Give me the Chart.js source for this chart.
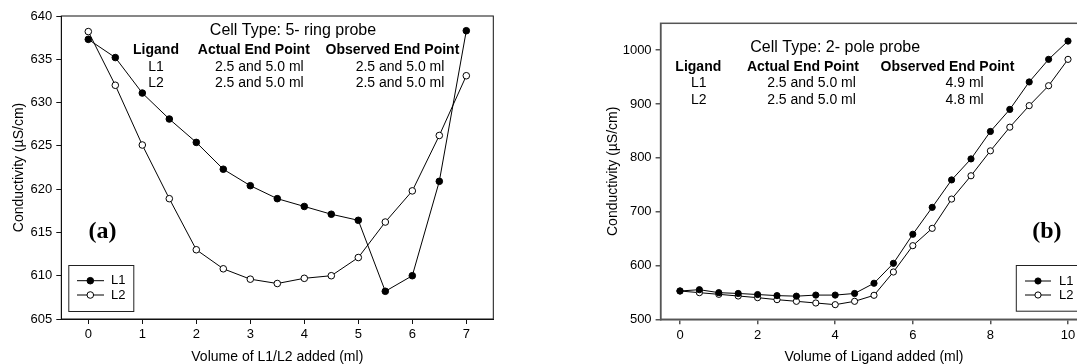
<!DOCTYPE html>
<html><head><meta charset="utf-8">
<script src="https://cdn.jsdelivr.net/npm/chart.js@4.4.1/dist/chart.umd.min.js"></script>
<style>
html,body{margin:0;padding:0;background:#fff;overflow:hidden;width:1077px;height:364px;position:relative;}
canvas{position:absolute;top:0;}
#ca{left:0;} #cb{left:540px;}
</style></head><body>
<canvas id="ca" width="540" height="364"></canvas>
<canvas id="cb" width="560" height="364"></canvas>
<script>
// ---- data: panel (a) 5-ring probe ----
const volA = [0, 0.5, 1, 1.5, 2, 2.5, 3, 3.5, 4, 4.5, 5, 5.5, 6, 6.5, 7];
const l1A  = [637.3, 635.2, 631.1, 628.1, 625.4, 622.3, 620.4, 618.9, 618.0, 617.1, 616.4, 608.2, 610.0, 620.9, 638.3];
const l2A  = [638.2, 632.0, 625.1, 618.9, 613.0, 610.8, 609.6, 609.1, 609.7, 610.0, 612.1, 616.2, 619.8, 626.2, 633.1];
// ---- data: panel (b) 2-pole probe ----
const volB = [0, 0.5, 1, 1.5, 2, 2.5, 3, 3.5, 4, 4.5, 5, 5.5, 6, 6.5, 7, 7.5, 8, 8.5, 9, 9.5, 10];
const l1B  = [552.6, 555, 549.5, 548, 546, 544, 543, 545, 545, 548, 567, 604, 658, 708, 759, 798, 849, 890, 941, 983, 1017];
const l2B  = [552.6, 549.5, 546.4, 543.3, 540.2, 536.5, 533.4, 530.3, 527.2, 533.4, 544.6, 587.9, 636.8, 669, 723.4, 766.7, 813, 857, 897, 934, 983];
// ---- ticks ----
const xTicksA = [0, 1, 2, 3, 4, 5, 6, 7];
const yTicksA = [605, 610, 615, 620, 625, 630, 635, 640];
const xTicksB = [0, 2, 4, 6, 8, 10];
const yTicksB = [500, 600, 700, 800, 900, 1000];
// ---- texts ----
const seriesNames = ['L1', 'L2'];
const tableHeaders = ['Ligand', 'Actual End Point', 'Observed End Point'];
const tableA = [['L1', '2.5 and 5.0 ml', '2.5 and 5.0 ml'], ['L2', '2.5 and 5.0 ml', '2.5 and 5.0 ml']];
const tableB = [['L1', '2.5 and 5.0 ml', '4.9 ml'], ['L2', '2.5 and 5.0 ml', '4.8 ml']];

const FONT = '"Liberation Sans", Arial, Helvetica, sans-serif';
const SERIF = '"Liberation Serif", "Times New Roman", serif';

const decor = {
  id: 'decor',
  afterDraw(chart, args, o) {
    const ctx = chart.ctx, a = chart.chartArea;
    ctx.save();
    ctx.strokeStyle = o.frameColor; ctx.lineWidth = o.frameWidth;
    ctx.strokeRect(a.left, a.top, a.right - a.left, a.bottom - a.top);
    ctx.fillStyle = '#000'; ctx.textAlign = 'center'; ctx.textBaseline = 'middle';
    ctx.font = '16px ' + FONT;
    ctx.fillText(o.title, o.titleX, o.titleY);
    ctx.font = 'bold 14px ' + FONT;
    tableHeaders.forEach((h, i) => ctx.fillText(h, o.headX[i], o.headY));
    ctx.font = '14px ' + FONT;
    o.rows.forEach((r, j) => r.forEach((c, i) => ctx.fillText(c, o.cellX[i], o.rowY[j])));
    ctx.font = 'bold 24px ' + SERIF;
    ctx.fillText(o.panel, o.panelX, o.panelY);
    const L = o.legend;
    ctx.strokeStyle = '#222'; ctx.lineWidth = 1;
    ctx.strokeRect(L.x + 0.5, L.y + 0.5, L.w, L.h);
    chart.data.datasets.forEach((ds, i) => {
      const y = L.y + L.rows[i];
      ctx.strokeStyle = ds.borderColor; ctx.lineWidth = ds.borderWidth;
      ctx.beginPath(); ctx.moveTo(L.x + L.l0, y); ctx.lineTo(L.x + L.l1, y); ctx.stroke();
      ctx.beginPath(); ctx.arc(L.x + L.m, y, ds.pointRadius, 0, Math.PI * 2);
      ctx.fillStyle = ds.pointBackgroundColor; ctx.fill();
      ctx.strokeStyle = ds.pointBorderColor; ctx.lineWidth = ds.pointBorderWidth; ctx.stroke();
      ctx.fillStyle = '#000'; ctx.textAlign = 'left'; ctx.font = '13px ' + FONT;
      ctx.fillText(ds.label, L.x + L.t, y);
    });
    ctx.restore();
  }
};

function ds(label, xs, ys, filled, r) {
  return {
    label, data: xs.map((x, i) => ({x, y: ys[i]})),
    borderColor: '#000', borderWidth: 1, showLine: true, tension: 0,
    pointRadius: r, pointHoverRadius: r,
    pointBackgroundColor: filled ? '#000' : '#fff',
    pointBorderColor: '#000', pointBorderWidth: 1
  };
}

function make(id, cfg) {
  const axisCommon = (ticksArr, frame, fw) => ({
    type: 'linear',
    afterBuildTicks: s => { s.ticks = ticksArr.map(v => ({value: v})); },
    grid: {drawOnChartArea: false, drawTicks: true, tickLength: 5, color: frame, lineWidth: fw},
    border: {display: true, color: frame, width: fw},
  });
  return new Chart(document.getElementById(id), {
    type: 'scatter',
    data: {datasets: [ds(seriesNames[0], cfg.xs, cfg.y1, true, cfg.r), ds(seriesNames[1], cfg.xs, cfg.y2, false, cfg.r)]},
    options: {
      responsive: false, animation: false, devicePixelRatio: 1,
      layout: {padding: cfg.pad},
      plugins: {legend: {display: false}, tooltip: {enabled: false}, decor: cfg.decor},
      scales: {
        x: Object.assign(axisCommon(cfg.xt, cfg.frame, cfg.fw), {
          min: cfg.xmin, max: cfg.xmax,
          afterFit: s => { s.height = cfg.xH; },
          ticks: {color: '#000', font: {family: FONT, size: 13}, padding: 3, maxRotation: 0, autoSkip: false, callback: v => String(v)},
          title: {display: true, text: cfg.xTitle, color: '#000', font: {family: FONT, size: 14, lineHeight: 1}, padding: {top: 0, bottom: 0}}
        }),
        y: Object.assign(axisCommon(cfg.yt, cfg.frame, cfg.fw), {
          min: cfg.ymin, max: cfg.ymax,
          afterFit: s => { s.width = cfg.yW; },
          ticks: {color: '#000', font: {family: FONT, size: 13}, padding: 4, autoSkip: false, callback: v => String(v)},
          title: {display: true, text: 'Conductivity (\u00B5S/cm)', color: '#000', font: {family: FONT, size: 14, lineHeight: 1}, padding: {top: cfg.yTitlePad, bottom: 0}}
        })
      }
    },
    plugins: [decor]
  });
}

make('ca', {
  xs: volA, y1: l1A, y2: l2A, r: 3.3, xt: xTicksA, yt: yTicksA,
  xmin: -0.5, xmax: 7.5, ymin: 605, ymax: 640,
  pad: {left: 0, top: 16, right: 46.7, bottom: 0}, xH: 45, yW: 61.3,
  frame: '#111', fw: 1, yTitlePad: 12.2,
  xTitle: 'Volume of L1/L2 added (ml)',
  decor: {
    frameColor: '#111', frameWidth: 1,
    title: 'Cell Type: 5- ring probe', titleX: 293, titleY: 31,
    headX: [156, 253.8, 392.4], headY: 50,
    rows: tableA, cellX: [156, 259.3, 400], rowY: [66.7, 83],
    panel: '(a)', panelX: 102.4, panelY: 231.7,
    legend: {x: 68.3, y: 265, w: 65, h: 46, rows: [15.7, 30], l0: 8.7, l1: 35.7, m: 22, t: 42.7}
  }
});

make('cb', {
  xs: volB, y1: l1B, y2: l2B, r: 3.1, xt: xTicksB, yt: yTicksB,
  xmin: -0.5, xmax: 10.5, ymin: 500, ymax: 1050,
  pad: {left: 0, top: 23.3, right: 12.6, bottom: 0}, xH: 44.7, yW: 120.6,
  frame: '#555', fw: 1.5, yTitlePad: 65.7,
  xTitle: 'Volume of Ligand added (ml)',
  decor: {
    frameColor: '#555', frameWidth: 1.5,
    title: 'Cell Type: 2- pole probe', titleX: 295.2, titleY: 47.7,
    headX: [158.3, 262.9, 407.4], headY: 67.3,
    rows: tableB, cellX: [158.7, 271.5, 424.6], rowY: [83.3, 100],
    panel: '(b)', panelX: 506.8, panelY: 231.7,
    legend: {x: 475.8, y: 265, w: 65, h: 45.7, rows: [16, 30], l0: 9.2, l1: 35.2, m: 22.2, t: 43.2}
  }
});
</script>
</body></html>
